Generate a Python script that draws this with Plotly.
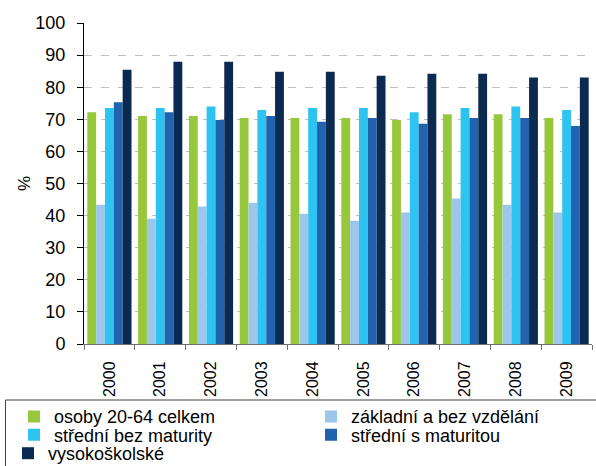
import plotly.graph_objects as go

years = ["2000", "2001", "2002", "2003", "2004", "2005", "2006", "2007", "2008", "2009"]
y_ticks = [0, 10, 20, 30, 40, 50, 60, 70, 80, 90, 100]

celkem = [72.2, 71.0, 71.0, 70.4, 70.4, 70.4, 69.8, 71.6, 71.6, 70.4]
zakladni = [43.4, 39.0, 42.8, 44.0, 40.6, 38.4, 41.0, 45.3, 43.4, 41.0]
stredni_bez = [73.5, 73.5, 74.0, 72.9, 73.5, 73.5, 72.2, 73.5, 74.0, 72.9]
stredni_s = [75.3, 72.2, 69.8, 71.0, 69.2, 70.4, 68.6, 70.4, 70.4, 67.9]
vysokoskolske = [85.4, 87.9, 87.9, 84.8, 84.8, 83.6, 84.2, 84.2, 83.0, 83.0]

names = ["osoby 20-64 celkem", "základní a bez vzdělání", "střední bez maturity",
         "střední s maturitou", "vysokoškolské"]
series = [celkem, zakladni, stredni_bez, stredni_s, vysokoskolske]
colors = ["#97C83C", "#9CC6EA", "#2EC4F2", "#2163AF", "#0B2A52"]
legend_ids = ["legend", "legend", "legend2", "legend2", "legend3"]

W, H = 596, 466
L, R, T, B = 84, 4, 23, 122
pw = W - L - R
ph = H - T - B


def px_x(x):
    return (x - L) / pw


def px_y(y):
    return (H - B - y) / ph


fig = go.Figure()
for name, vals, col, lg in zip(names, series, colors, legend_ids):
    fig.add_trace(go.Bar(x=years, y=vals, name=name, marker_color=col,
                         marker_line_width=0, legend=lg))

font = "Arial, Liberation Sans, sans-serif"
leg_common = dict(orientation="h", xanchor="left", yanchor="middle",
                  bgcolor="rgba(0,0,0,0)", borderwidth=0,
                  font=dict(family=font, size=18, color="#000000"),
                  itemwidth=30, traceorder="normal")

fig.update_layout(
    width=W, height=H,
    margin=dict(l=L, r=R, t=T, b=B, pad=0, autoexpand=False),
    paper_bgcolor="white", plot_bgcolor="white",
    barmode="group", bargap=0.13, bargroupgap=0,
    font=dict(family=font, size=17, color="#000000"),
    legend=dict(x=px_x(14), y=px_y(416.7), entrywidth=252,
                entrywidthmode="pixels", **leg_common),
    legend2=dict(x=px_x(14), y=px_y(435), entrywidth=252,
                 entrywidthmode="pixels", **leg_common),
    legend3=dict(x=px_x(8), y=px_y(453.5), **leg_common),
    xaxis=dict(
        type="category", tickangle=-90, tickson="boundaries",
        ticks="outside", ticklen=5, tickcolor="#707070", tickwidth=1,
        showline=True, linecolor="#707070", linewidth=1, automargin=False,
        showgrid=False, tickfont=dict(size=16, family=font, color="#000000"),
        ticklabelstandoff=10,
    ),
    yaxis=dict(
        range=[0, 100], tickvals=y_ticks, ticks="outside", ticklen=6,
        tickcolor="#000000", tickwidth=1, showline=True, linecolor="#000000",
        linewidth=1, showgrid=True, gridcolor="#BFBFBF", gridwidth=1,
        griddash="8px,9px", zeroline=False, automargin=False,
        tickfont=dict(size=18, family=font, color="#000000"),
        title=dict(text="%", font=dict(size=17, family=font, color="#000000"),
                   standoff=0),
        ticklabelstandoff=8,
    ),
    shapes=[dict(type="rect", xref="paper", yref="paper",
                 x0=px_x(5.5), x1=px_x(605), y0=px_y(400), y1=px_y(475),
                 line=dict(color="#404040", width=1), fillcolor="rgba(0,0,0,0)",
                 layer="below")],
)

fig.write_html("out.html", config={"displayModeBar": False},
               post_script="document.body.style.margin='0';")
